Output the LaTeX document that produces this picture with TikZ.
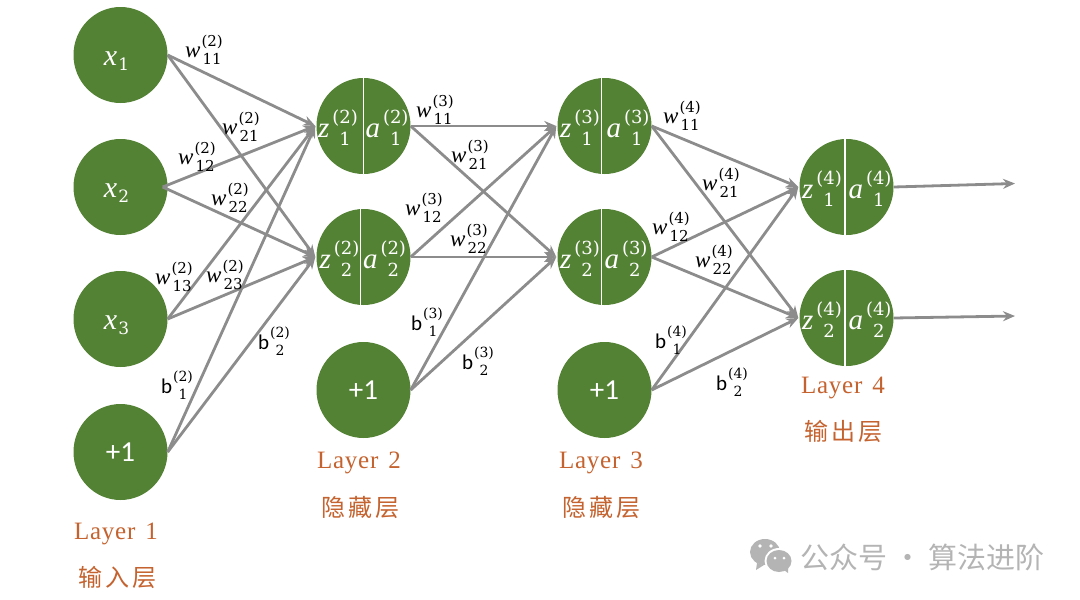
\documentclass[tikz,border=0pt]{standalone}
\usepackage{fontspec}
\setmainfont{Liberation Serif}
\newfontfamily\cjk{Noto Sans CJK SC}
\newfontfamily\carl{Carlito}
\newfontfamily\dig{DejaVu Serif}
\newfontfamily\laytype[LetterSpace=3]{Liberation Serif}
\usetikzlibrary{arrows.meta,shapes.geometric}
\definecolor{leaf}{HTML}{548235}
\definecolor{wire}{HTML}{8C8C8C}
\definecolor{rust}{HTML}{C4632F}
\definecolor{wmgray}{HTML}{B4B4B4}
\newcommand{\fsz}[1]{\fontsize{#1}{#1}\selectfont}
% symbol with centred superscript / subscript stack
\newcommand{\wlab}[3]{\hbox{\fsz{23}\textit{#1}\kern1pt\raisebox{-6.5pt}{\dig\fsz{15}\shortstack[c]{(#2)\\[1pt]#3}}}}
\newcommand{\blab}[3]{\hbox{{\carl\fsz{21}#1}\kern1pt\raisebox{-6pt}{\dig\fsz{14}\shortstack[c]{(#2)\\[2pt]#3}}}}
\newcommand{\zlab}[3]{\hbox{\fsz{29}\textit{#1}\kern3pt\raisebox{-8.5pt}{\dig\fsz{18}\shortstack[c]{(#2)\\[3pt]#3}}}}
\newcommand{\xlab}[2]{\raisebox{-10pt}[0pt][0pt]{\hbox{\fsz{30}\textit{#1}\kern1pt\raisebox{-5pt}{\dig\fsz{17}#2}\kern8pt}}}
\tikzset{
  neuron/.style={ellipse,fill=leaf,draw=none,minimum width=94pt,minimum height=96pt,inner sep=0pt,text=white},
  edgeln/.style={draw=wire,line width=2.8pt,-{Stealth[length=12pt,width=10pt]}},
  sep/.style={draw=white,line width=1.3pt},
  tag/.style={inner sep=0pt,text=black},
  intag/.style={inner sep=0pt,text=white},
  layername/.style={inner sep=0pt,text=rust,font=\laytype\fsz{25}},
  cjkname/.style={inner sep=0pt,text=rust,font=\cjk\fsz{24}},
  wmfont/.style={inner sep=0pt,text=wmgray,font=\cjk\fsz{29}}
}
\begin{document}
\begin{tikzpicture}[x=1pt,y=-1pt]
\useasboundingbox (0,0) rectangle (1080,600);
% neurons
\node[neuron] (x1) at (120.5,55) {\xlab{x}{1}};
\node[neuron] (x2) at (120.5,187) {\xlab{x}{2}};
\node[neuron] (x3) at (120.5,319) {\xlab{x}{3}};
\node[neuron] (b1) at (120.5,452) {\carl\fsz{29}+1};
\node[neuron] (p1) at (363.5,126) {};
\node[neuron] (p2) at (363.5,257) {};
\node[neuron] (b2) at (363.5,390) {\carl\fsz{29}+1};
\node[neuron] (q1) at (604.5,126) {};
\node[neuron] (q2) at (604.5,257) {};
\node[neuron] (b3) at (604.5,390) {\carl\fsz{29}+1};
\node[neuron] (r1) at (846.5,187) {};
\node[neuron] (r2) at (846.5,318) {};
% split lines
\draw[sep] (p1.north) -- (p1.south);
\draw[sep] ([xshift=-3pt]p2.north) -- ([xshift=-3pt]p2.south);
\draw[sep] ([xshift=-3pt]q1.north) -- ([xshift=-3pt]q1.south);
\draw[sep] ([xshift=-3pt]q2.north) -- ([xshift=-3pt]q2.south);
\draw[sep] ([xshift=-1.5pt]r1.north) -- ([xshift=-1.5pt]r1.south);
\draw[sep] ([xshift=-1.5pt]r2.north) -- ([xshift=-1.5pt]r2.south);
% neuron inner labels
\node[intag] (zp1) at (338,128) {\zlab{z}{2}{1}};
\node[intag] (ap1) at (387,128) {\zlab{a}{2}{1}};
\node[intag] (zp2) at (339.5,259) {\zlab{z}{2}{2}};
\node[intag] (ap2) at (384.5,259) {\zlab{a}{2}{2}};
\node[intag] (zq1) at (580,128) {\zlab{z}{3}{1}};
\node[intag] (aq1) at (628,128) {\zlab{a}{3}{1}};
\node[intag] (zq2) at (580,259) {\zlab{z}{3}{2}};
\node[intag] (aq2) at (626,259) {\zlab{a}{3}{2}};
\node[intag] (zr1) at (822,189) {\zlab{z}{4}{1}};
\node[intag] (ar1) at (870,189) {\zlab{a}{4}{1}};
\node[intag] (zr2) at (822,320) {\zlab{z}{4}{2}};
\node[intag] (ar2) at (870,320) {\zlab{a}{4}{2}};
% connectors layer 1-2
\foreach \s in {x1,x3,b1}{
  \draw[edgeln] (\s.east) -- ([xshift=-1pt]p1.west);
  \draw[edgeln] (\s.east) -- ([xshift=-1pt]p2.west);
}
\draw[edgeln] ([xshift=-5pt]x2.east) -- ([xshift=-1pt]p1.west);
\draw[edgeln] ([xshift=-5pt]x2.east) -- ([xshift=-1pt]p2.west);
% connectors layer 2-3
\foreach \s in {p1,p2,b2}{
  \draw[edgeln] (\s.east) -- ([xshift=-1pt]q1.west);
  \draw[edgeln] (\s.east) -- ([xshift=-1pt]q2.west);
}
% connectors layer 3-4
\foreach \s in {q1,q2,b3}{
  \draw[edgeln] (\s.east) -- ([xshift=-1pt]r1.west);
  \draw[edgeln] (\s.east) -- ([xshift=-1pt]r2.west);
}
\coordinate (o1) at (1015,183.5);
\coordinate (o2) at (1015,316);
\draw[edgeln] (r1.east) -- (o1);
\draw[edgeln] (r2.east) -- (o2);
% weight labels
\node[tag] (l1) at (204,50) {\wlab{w}{2}{11}};
\node[tag] (l2) at (241,127) {\wlab{w}{2}{21}};
\node[tag] (l3) at (197,157) {\wlab{w}{2}{12}};
\node[tag] (l4) at (230,198) {\wlab{w}{2}{22}};
\node[tag] (l5) at (174,277) {\wlab{w}{2}{13}};
\node[tag] (l6) at (225,275) {\wlab{w}{2}{23}};
\node[tag] (l7) at (177,385) {\blab{b}{2}{1}};
\node[tag] (l8) at (274,341) {\blab{b}{2}{2}};
\node[tag] (m1) at (435,110) {\wlab{w}{3}{11}};
\node[tag] (m2) at (470,155) {\wlab{w}{3}{21}};
\node[tag] (m3) at (424,208) {\wlab{w}{3}{12}};
\node[tag] (m4) at (469,239) {\wlab{w}{3}{22}};
\node[tag] (m5) at (427,322) {\blab{b}{3}{1}};
\node[tag] (m6) at (478,361) {\blab{b}{3}{2}};
\node[tag] (n1) at (682,116) {\wlab{w}{4}{11}};
\node[tag] (n2) at (721,183) {\wlab{w}{4}{21}};
\node[tag] (n3) at (671,227) {\wlab{w}{4}{12}};
\node[tag] (n4) at (714,260) {\wlab{w}{4}{22}};
\node[tag] (n5) at (671,340) {\blab{b}{4}{1}};
\node[tag] (n6) at (732,382) {\blab{b}{4}{2}};
% layer names
\node[layername] (t1) at (116,534) {Layer\hspace{10pt}1};
\node[cjkname] (c1) at (117,577) {输\hspace{3pt}入\hspace{3pt}层};
\node[layername] (t2) at (359,463) {Layer\hspace{10pt}2};
\node[cjkname] (c2) at (360,507) {隐\hspace{3pt}藏\hspace{3pt}层};
\node[layername] (t3) at (601,463) {Layer\hspace{10pt}3};
\node[cjkname] (c3) at (601,507) {隐\hspace{3pt}藏\hspace{3pt}层};
\node[layername] (t4) at (843,388) {Layer\hspace{10pt}4};
\node[cjkname] (c4) at (843,431) {输\hspace{3pt}出\hspace{3pt}层};
% watermark
\fill[wmgray] (765,552) ellipse (15pt and 13pt);
\fill[wmgray] (757,563) -- (756,570) -- (764,565) -- cycle;
\fill[white] (779,561) ellipse (14.5pt and 13pt);
\fill[wmgray] (779,561) ellipse (12.5pt and 11pt);
\fill[wmgray] (784,570) -- (788,573) -- (788,567) -- cycle;
\fill[white] (760,546) circle (1.8pt) (771,546) circle (1.8pt) (775,558) circle (1.5pt) (784,558) circle (1.5pt);
\node[wmfont,anchor=west] (wm) at (800,557) {公众号\hspace{6pt}·\hspace{6pt}算法进阶};
\end{tikzpicture}
\end{document}
